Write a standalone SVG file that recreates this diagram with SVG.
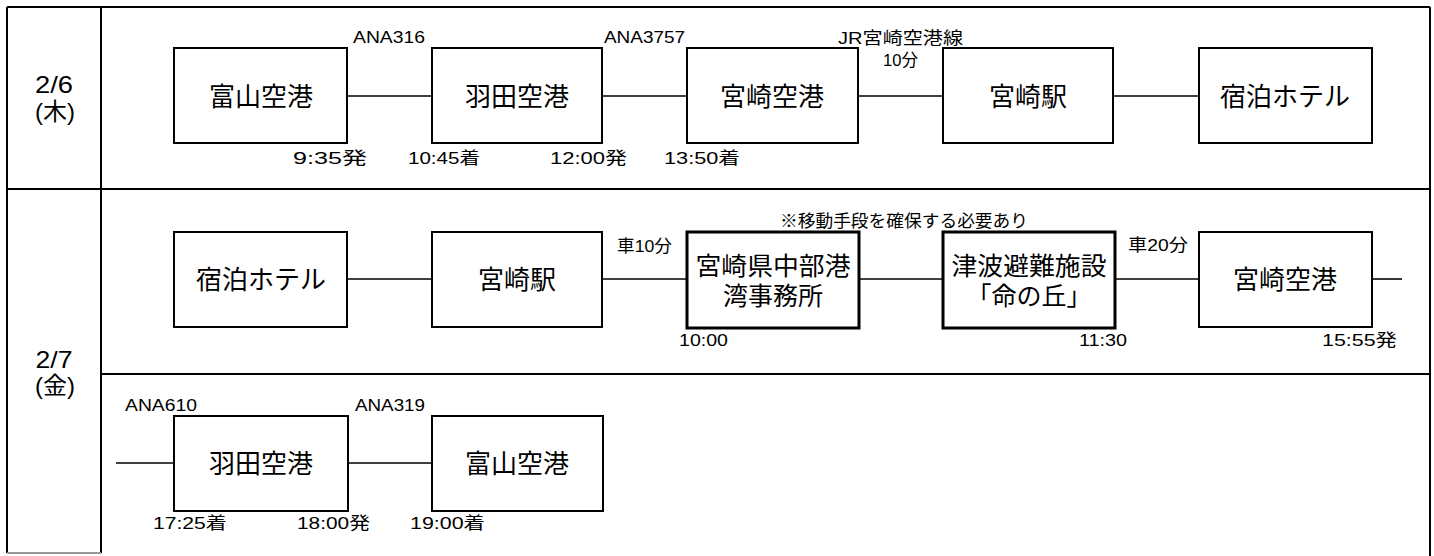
<svg xmlns="http://www.w3.org/2000/svg" width="1434" height="556" viewBox="0 0 1434 556">
<style>
.frame{stroke:#000;stroke-width:2;fill:none}
.box{fill:#fff;stroke:#000;stroke-width:2}
.boxb{fill:#fff;stroke:#000;stroke-width:3}
.conn line{stroke:#000;stroke-width:1.6}
.nt{font-family:"Liberation Sans","Noto Sans CJK JP","Noto Sans CJK SC",sans-serif;font-size:26px;fill:#000;text-anchor:middle}
.nt2{font-family:"Liberation Sans","Noto Sans CJK JP","Noto Sans CJK SC",sans-serif;font-size:25px;fill:#000;text-anchor:middle}
.lb{font-family:"Liberation Sans","Noto Sans CJK JP",sans-serif;font-size:17px;fill:#000}
.jp{font-family:"Liberation Sans","Noto Sans CJK JP",sans-serif;font-size:17px;fill:#000}
.day{font-family:"Liberation Sans","Noto Sans CJK JP",sans-serif;font-size:24px;fill:#000;text-anchor:middle}
</style>
<rect width="1434" height="556" fill="#fff"/>
<g id="frame">
<line class="frame" x1="7" y1="7" x2="1430" y2="7"/>
<line class="frame" x1="7" y1="7" x2="7" y2="553"/>
<line class="frame" x1="1430" y1="7" x2="1430" y2="556"/>
<line class="frame" x1="101" y1="7" x2="101" y2="553"/>
<line class="frame" x1="7" y1="189" x2="1430" y2="189"/>
<line class="frame" x1="101" y1="374" x2="1430" y2="374"/>
<line x1="7" y1="553" x2="101" y2="553" stroke="#999" stroke-width="2"/>
</g>
<g id="days">
<text class="day" x="54" y="93" textLength="38" lengthAdjust="spacingAndGlyphs">2/6</text>
<text class="day" x="55" y="120">(木)</text>
<text class="day" x="54" y="368" textLength="37" lengthAdjust="spacingAndGlyphs">2/7</text>
<text class="day" x="55" y="394">(金)</text>
</g>
<g id="connectors" class="conn">
<line x1="347" y1="96" x2="432" y2="96"/>
<line x1="602" y1="96" x2="687" y2="96"/>
<line x1="858" y1="96" x2="943" y2="96"/>
<line x1="1113" y1="96" x2="1199" y2="96"/>
<line x1="347" y1="279" x2="432" y2="279"/>
<line x1="602" y1="279" x2="687" y2="279"/>
<line x1="859" y1="279" x2="943" y2="279"/>
<line x1="1115" y1="279" x2="1199" y2="279"/>
<line x1="1372" y1="279" x2="1402" y2="279"/>
<line x1="116" y1="463" x2="174" y2="463"/>
<line x1="348" y1="463" x2="432" y2="463"/>
</g>
<g id="n1"><rect class="box" x="174" y="48" width="173" height="95"/><text class="nt" x="261" y="106">富山空港</text></g>
<g id="n2"><rect class="box" x="432" y="48" width="170" height="95"/><text class="nt" x="517" y="106">羽田空港</text></g>
<g id="n3"><rect class="box" x="687" y="48" width="171" height="95"/><text class="nt" x="772" y="106">宮崎空港</text></g>
<g id="n4"><rect class="box" x="943" y="48" width="170" height="95"/><text class="nt" x="1028" y="106">宮崎駅</text></g>
<g id="n5"><rect class="box" x="1199" y="48" width="173" height="95"/><text class="nt" x="1285" y="106">宿泊ホテル</text></g>
<g id="n6"><rect class="box" x="174" y="232" width="173" height="95"/><text class="nt" x="261" y="289">宿泊ホテル</text></g>
<g id="n7"><rect class="box" x="432" y="232" width="170" height="95"/><text class="nt" x="517" y="289">宮崎駅</text></g>
<g id="n8"><rect class="boxb" x="687" y="232" width="172" height="96"/><text class="nt2" x="773" y="275" textLength="155" lengthAdjust="spacingAndGlyphs">宮崎県中部港</text><text class="nt2" x="773" y="305">湾事務所</text></g>
<g id="n9"><rect class="boxb" x="943" y="232" width="172" height="96"/><text class="nt2" x="1029" y="275" textLength="155" lengthAdjust="spacingAndGlyphs">津波避難施設</text><text class="nt2" x="1029" y="305">「命の丘」</text></g>
<g id="n10"><rect class="box" x="1199" y="232" width="173" height="95"/><text class="nt" x="1285" y="289">宮崎空港</text></g>
<g id="n11"><rect class="box" x="174" y="416" width="174" height="95"/><text class="nt" x="261" y="473">羽田空港</text></g>
<g id="n12"><rect class="box" x="432" y="416" width="171" height="95"/><text class="nt" x="517" y="473">富山空港</text></g>
<g id="labels">
<text class="lb" x="353" y="43" textLength="72" lengthAdjust="spacingAndGlyphs">ANA316</text>
<text class="lb" x="604" y="43" textLength="81" lengthAdjust="spacingAndGlyphs">ANA3757</text>
<text class="lb" x="838" y="44" textLength="125" lengthAdjust="spacingAndGlyphs">JR宮崎空港線</text>
<text class="lb" x="883" y="66" textLength="35" lengthAdjust="spacingAndGlyphs">10分</text>
<text class="lb" x="293" y="164" textLength="74" lengthAdjust="spacingAndGlyphs">9:35発</text>
<text class="lb" x="408" y="164" textLength="72" lengthAdjust="spacingAndGlyphs">10:45着</text>
<text class="lb" x="550" y="164" textLength="77" lengthAdjust="spacingAndGlyphs">12:00発</text>
<text class="lb" x="664" y="164" textLength="76" lengthAdjust="spacingAndGlyphs">13:50着</text>
<text class="jp" x="780" y="227" textLength="248" lengthAdjust="spacingAndGlyphs">※移動手段を確保する必要あり</text>
<text class="lb" x="617" y="252" textLength="55" lengthAdjust="spacingAndGlyphs">車10分</text>
<text class="lb" x="1128" y="251" textLength="60" lengthAdjust="spacingAndGlyphs">車20分</text>
<text class="lb" x="679" y="346" textLength="49" lengthAdjust="spacingAndGlyphs">10:00</text>
<text class="lb" x="1079" y="346" textLength="48" lengthAdjust="spacingAndGlyphs">11:30</text>
<text class="lb" x="1322" y="346" textLength="75" lengthAdjust="spacingAndGlyphs">15:55発</text>
<text class="lb" x="125" y="411" textLength="72" lengthAdjust="spacingAndGlyphs">ANA610</text>
<text class="lb" x="355" y="411" textLength="70" lengthAdjust="spacingAndGlyphs">ANA319</text>
<text class="lb" x="153" y="529" textLength="74" lengthAdjust="spacingAndGlyphs">17:25着</text>
<text class="lb" x="297" y="529" textLength="73" lengthAdjust="spacingAndGlyphs">18:00発</text>
<text class="lb" x="410" y="529" textLength="75" lengthAdjust="spacingAndGlyphs">19:00着</text>
</g>
</svg>
